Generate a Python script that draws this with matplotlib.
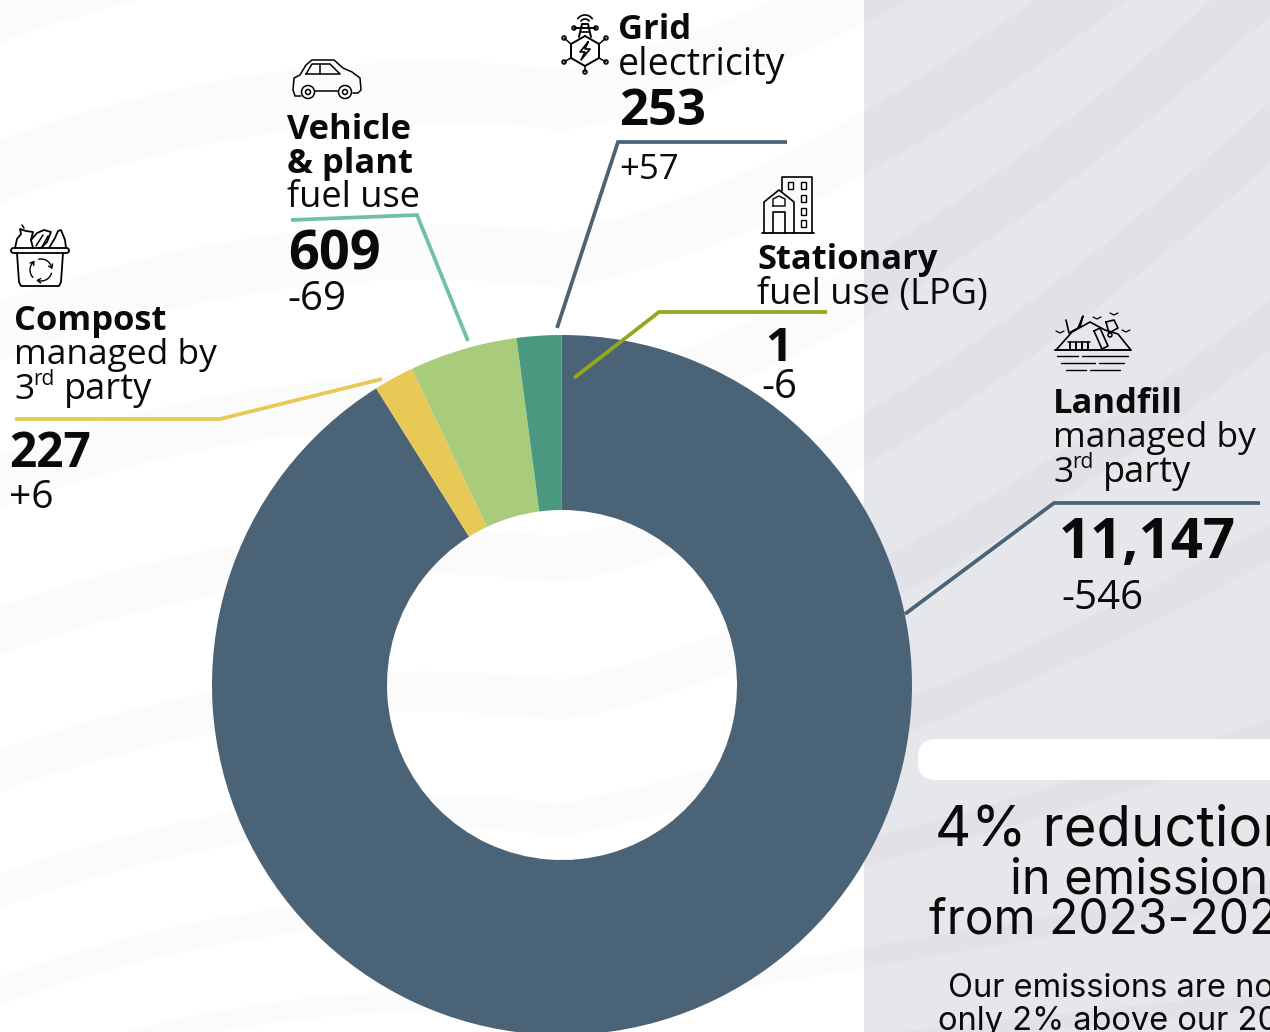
# Libraries
import numpy as np
import matplotlib
matplotlib.use('Agg')
import matplotlib.pyplot as plt
from matplotlib.patches import Circle, FancyBboxPatch, PathPatch, Rectangle
from matplotlib.path import Path

# Emissions by source
sources = ['Landfill', 'Compost', 'Vehicle & plant', 'Grid electricity', 'Stationary']
emissions = [11147, 227, 609, 253, 1]
changes = ['-546', '+6', '-69', '+57', '-6']
slice_colors = ['#4a6376', '#e8c955', '#a8cc7c', '#4b9880', '#93a81f']

PANEL_COLOR = '#e6e7eb'
BAND_DARK = '#e1e1e7'
BAND_LIGHT = '#fbfbfb'
LABEL_FONT = ['Open Sans', 'DejaVu Sans']
NOTE_FONT = ['Inter', 'DejaVu Sans']
ICON_LW = 1.1
BODY = 25.5
HEAD = 24.8

# Background stripes, each one a start height and the height it reaches at the right
stripe_starts = [-420, -280, -120, 40, 200, 350, 500, 640, 760, 860, 950, 1030]
stripe_ends = [-700, -620, -500, -390, -270, -140, 10, 220, 470, 690, 870, 990]
stripe_widths = [55, 60, 60, 60, 55, 50, 45, 40, 32, 26, 20, 16]

fig = plt.figure(figsize=(12.7, 10.32), dpi=100)

# Back axes in pixel coordinates, y pointing down
ax = fig.add_axes([0, 0, 1, 1])
ax.set_xlim(0, 1270)
ax.set_ylim(1032, 0)
ax.set_axis_off()


def draw_background(ax):
    panel = Rectangle((864, 0), 406, 1032, facecolor=PANEL_COLOR, edgecolor='none', zorder=0)
    ax.add_patch(panel)
    white = Rectangle((0, 0), 864, 1032, facecolor='none', edgecolor='none', zorder=0)
    ax.add_patch(white)
    for y0, y1, w in zip(stripe_starts, stripe_ends, stripe_widths):
        verts = [(-100, y0 + 170), (250, y0 + 20), (560, y0 + 60), (900, y0), (1400, y1)]
        codes = [Path.MOVETO, Path.CURVE3, Path.CURVE3, Path.CURVE3, Path.CURVE3]
        for clip, color in ((panel, BAND_DARK), (white, BAND_LIGHT)):
            stripe = PathPatch(Path(verts, codes), facecolor='none', edgecolor=color,
                               linewidth=w * 0.72, capstyle='butt', zorder=0.5)
            ax.add_patch(stripe)
            stripe.set_clip_path(clip)


def leader(ax, xs, ys, color):
    ax.plot(xs, ys, color=color, linewidth=2.7, solid_capstyle='butt',
            solid_joinstyle='miter', zorder=4)


def label(ax, x, y, text, size, bold=False, family=LABEL_FONT, color='#0a0a0a'):
    ax.text(x, y, text, fontsize=size, fontweight='bold' if bold else 'normal',
            family=family, color=color, ha='left', va='baseline', zorder=6, clip_on=True)


def third_party(ax, x, y):
    label(ax, x, y, '3', BODY)
    label(ax, x + 19, y - 14, 'rd', 15)
    label(ax, x + 50, y, 'party', 26)


def stroke(ax, xs, ys, lw=ICON_LW, closed=False):
    xs, ys = list(xs), list(ys)
    if closed:
        xs, ys = xs + xs[:1], ys + ys[:1]
    ax.plot(xs, ys, color='black', linewidth=lw, solid_joinstyle='round',
            solid_capstyle='round', zorder=5)


def ring(ax, x, y, r, lw=ICON_LW):
    ax.add_patch(Circle((x, y), r, facecolor='none', edgecolor='black', linewidth=lw, zorder=5))


def icon_car(ax):
    stroke(ax, [301, 295, 293, 294, 300, 306, 312, 334, 343, 352, 360, 361, 358, 353],
           [96, 96, 90, 78, 75, 65, 60, 60, 68, 72, 78, 90, 93, 93])
    stroke(ax, [315, 338], [91, 91])
    stroke(ax, [306, 312, 330, 340, 306], [74, 64, 64, 74, 74])
    stroke(ax, [320, 320], [64, 74])
    for cx in (308, 345):
        ring(ax, cx, 92, 6.5)
        ring(ax, cx, 92, 2.5)


def icon_bucket(ax):
    ax.add_patch(FancyBboxPatch((11, 248), 58, 5, boxstyle='round,pad=0,rounding_size=2.5',
                                facecolor='none', edgecolor='black', linewidth=1.3, zorder=5))
    stroke(ax, [17, 19, 21, 59, 61, 63], [253, 282, 286, 286, 282, 253], lw=1.3)
    # Recycling arrows on the front of the bin
    for a0 in (0.3, 2.4, 4.5):
        seg = np.linspace(a0, a0 + 1.6, 16)
        stroke(ax, 41 + 11 * np.cos(seg), 270 + 11 * np.sin(seg), lw=1.0)
        stroke(ax, [41 + 13 * np.cos(a0 + 1.3), 41 + 11 * np.cos(a0 + 1.6), 41 + 8.5 * np.cos(a0 + 1.3)],
               [270 + 13 * np.sin(a0 + 1.3), 270 + 11 * np.sin(a0 + 1.6), 270 + 8.5 * np.sin(a0 + 1.3)], lw=1.0)
    # Food waste heaped on top
    stroke(ax, [15, 17, 21, 20, 26, 33, 31, 33], [248, 239, 234, 229, 231, 232, 240, 248], lw=1.3)
    stroke(ax, [31, 37, 44, 51, 47, 41, 38], [240, 233, 230, 232, 242, 248, 248], lw=1.3)
    stroke(ax, [49, 55, 58, 61, 65, 66], [248, 238, 231, 230, 240, 248], lw=1.3)
    stroke(ax, [36, 43], [246, 235])
    stroke(ax, [42, 48], [247, 236])
    stroke(ax, [24, 22], [228, 225])


def icon_tower(ax):
    hexx = [585, 599, 599, 585, 571, 571]
    hexy = [36, 44, 58, 66, 58, 44]
    stroke(ax, hexx, hexy, lw=1.4, closed=True)
    stroke(ax, [588, 580, 585, 581, 590, 585, 588], [42, 52, 52, 60, 49, 49, 42], lw=1.2)
    stroke(ax, [579, 582, 588, 591], [37, 24, 24, 37], lw=1.4)
    stroke(ax, [574, 596], [28, 28], lw=1.4)
    stroke(ax, [580, 590], [32, 32], lw=1.2)
    for ox, oy, ex, ey in [(571, 44, 564, 38), (599, 44, 606, 38), (571, 58, 564, 62),
                           (599, 58, 606, 62), (585, 66, 585, 72)]:
        stroke(ax, [ox, ex], [oy, ey])
        ring(ax, ex, ey, 2)
    ring(ax, 574, 28, 2)
    ring(ax, 596, 28, 2)
    t = np.linspace(np.pi * 1.2, np.pi * 1.8, 20)
    for r in (5, 9):
        stroke(ax, 585 + r * np.cos(t), 24 + r * np.sin(t), lw=1.2)


def icon_buildings(ax):
    stroke(ax, [762, 814], [233, 233], lw=1.3)
    stroke(ax, [782, 782, 812, 812], [191, 177, 177, 233], lw=1.2)
    for wx, wy in [(790, 182), (803, 182), (803, 195), (803, 208), (803, 220)]:
        ax.add_patch(Rectangle((wx - 2.5, wy), 5, 7, facecolor='none', edgecolor='black',
                               linewidth=1.0, zorder=5))
    stroke(ax, [764, 764, 779, 794, 794], [233, 202, 190, 202, 233], lw=1.2)
    stroke(ax, [773, 773, 785, 785], [233, 212, 212, 233], lw=1.2)
    stroke(ax, [773, 773, 779, 785, 785, 773], [206, 199, 196, 199, 206, 206], lw=1.0)


def icon_landfill(ax):
    stroke(ax, [1055, 1131], [350, 350], lw=1.4)
    stroke(ax, [1057, 1078], [356, 356], lw=1.0)
    stroke(ax, [1082, 1128], [356, 356], lw=1.0)
    stroke(ax, [1061, 1095], [363, 363], lw=1.0)
    stroke(ax, [1099, 1124], [363, 363], lw=1.0)
    stroke(ax, [1066, 1086], [370, 370], lw=1.0)
    stroke(ax, [1090, 1120], [370, 370], lw=1.0)
    stroke(ax, [1057, 1072, 1090, 1105, 1118, 1130], [349, 332, 322, 330, 334, 349], lw=1.2)
    stroke(ax, [1066, 1069, 1078, 1083, 1080], [320, 333, 328, 316, 327], lw=1.2)
    stroke(ax, [1106, 1109, 1118, 1114, 1106], [322, 333, 328, 320, 322], lw=1.2)
    stroke(ax, [1094, 1100, 1108, 1102, 1094], [331, 328, 346, 349, 331], lw=1.2)
    ring(ax, 1110, 335, 2)
    for x0 in (1070, 1076, 1082, 1088):
        stroke(ax, [x0, x0], [342, 349], lw=1.4)
    stroke(ax, [1068, 1090], [342, 342])
    for bx, by in [(1060, 332), (1097, 318), (1126, 331), (1114, 314)]:
        stroke(ax, [bx - 4, bx, bx + 4], [by - 1, by + 1, by - 1], lw=0.9)


draw_background(ax)

# Donut on its own axes, y pointing up, above the background
ax_pie = fig.add_axes([0, 0, 1, 1], zorder=1)
ax_pie.patch.set_alpha(0)
ax_pie.pie(emissions, colors=slice_colors, startangle=90, counterclock=False,
           center=(562, 347), radius=350,
           wedgeprops={'width': 175, 'linewidth': 0})
ax_pie.set_xlim(0, 1270)
ax_pie.set_ylim(0, 1032)
ax_pie.set_aspect('auto')
ax_pie.set_axis_off()

# Labels and leaders sit on a third layer above the donut
top = fig.add_axes([0, 0, 1, 1], zorder=2)
top.set_xlim(0, 1270)
top.set_ylim(1032, 0)
top.set_axis_off()
top.patch.set_alpha(0)

leader(top, [557, 618, 787], [328, 142, 142], '#4a6376')
leader(top, [574, 659, 827], [378, 312, 312], slice_colors[4])
leader(top, [291, 417, 468], [220, 215, 341], '#6fbfa9')
leader(top, [15, 220, 382], [419, 419, 379], slice_colors[1])
leader(top, [905, 1054, 1260], [614, 503, 503], '#4a6376')

# Grid electricity
label(top, 618, 39, 'Grid', HEAD, bold=True)
label(top, 618, 75, 'electricity', 27)
label(top, 619, 125, f'{emissions[3]:,}', 36.5, bold=True)
label(top, 619, 179, changes[3], 25)

# Stationary fuel
label(top, 757, 269, 'Stationary', HEAD, bold=True)
label(top, 757, 304, 'fuel use (LPG)', 26)
label(top, 765, 361, f'{emissions[4]:,}', 34, bold=True)
label(top, 761, 398, changes[4], 29)

# Vehicle and plant fuel
label(top, 287, 139, 'Vehicle', HEAD, bold=True)
label(top, 287, 173, '& plant', HEAD, bold=True)
label(top, 287, 207, 'fuel use', 26)
label(top, 288, 269, f'{emissions[2]:,}', 39, bold=True)
label(top, 287, 310, changes[2], 29)

# Compost
label(top, 14, 330, 'Compost', HEAD, bold=True)
label(top, 14, 364, 'managed by', BODY)
third_party(top, 14, 399)
label(top, 9, 467, f'{emissions[1]:,}', 34.5, bold=True)
label(top, 9, 508, changes[1], 28)

# Landfill
label(top, 1053, 413, 'Landfill', HEAD, bold=True)
label(top, 1053, 447, 'managed by', BODY)
third_party(top, 1053, 482)
label(top, 1059, 558, f'{emissions[0]:,}', 40.5, bold=True)
label(top, 1061, 609, changes[0], 29)

icon_car(top)
icon_bucket(top)
icon_tower(top)
icon_buildings(top)
icon_landfill(top)

# Summary panel on the right
top.add_patch(FancyBboxPatch((918, 739), 420, 41, boxstyle='round,pad=0,rounding_size=18',
                             facecolor='white', edgecolor='none', zorder=3))
label(top, 935, 846, '4% reduction', 40.5, family=NOTE_FONT)
label(top, 1010, 893, 'in emissions', 35, family=NOTE_FONT)
label(top, 929, 933, 'from 2023-2024', 34.5, family=NOTE_FONT)
label(top, 948, 997, 'Our emissions are now', 23.5, family=NOTE_FONT)
label(top, 938, 1030, 'only 2% above our 2021', 23.5, family=NOTE_FONT)

fig.savefig('out.png', dpi=100)
